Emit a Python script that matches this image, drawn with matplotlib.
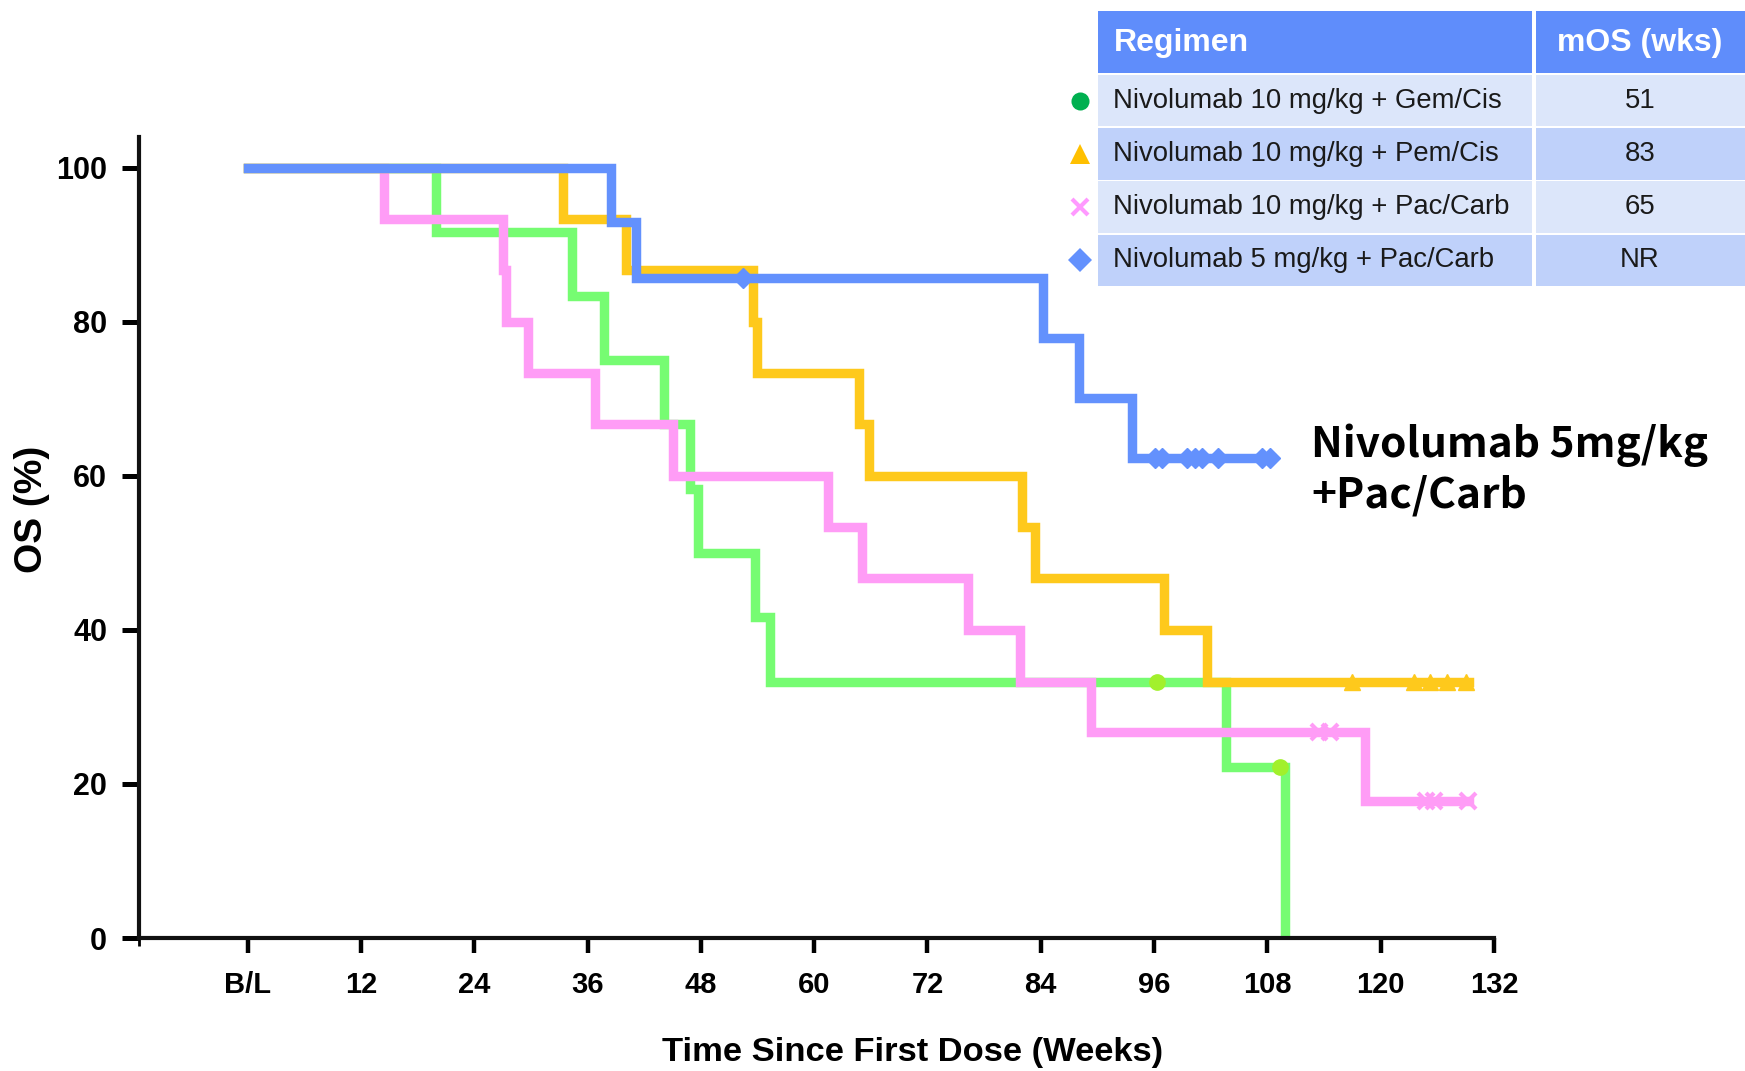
import matplotlib
matplotlib.use('Agg')
import matplotlib.pyplot as plt
from matplotlib.patches import Rectangle
import numpy as np

# event times (weeks) and survival (%) after each event, plus censor times
green_times = [20.0, 34.4, 37.7, 44.1, 46.9, 47.7, 53.7, 55.3, 103.6, 109.9]
green_surv = [91.7, 83.3, 75.0, 66.7, 58.3, 50.0, 41.7, 33.3, 22.2, 0.0]
green_cens = [96.3, 109.3]
green_end = 109.9

yellow_times = [33.4, 40.1, 53.5, 53.9, 64.7, 65.8, 82.0, 83.4, 97.0, 101.6]
yellow_surv = [93.3, 86.7, 80.0, 73.3, 66.7, 60.0, 53.3, 46.7, 40.0, 33.3]
yellow_cens = [117.0, 123.5, 125.2, 127.0, 129.0]
yellow_end = 129.3

pink_times = [14.4, 27.1, 27.4, 29.7, 36.8, 45.0, 61.5, 65.1, 76.3, 81.8, 89.3, 118.3]
pink_surv = [93.3, 86.7, 80.0, 73.3, 66.7, 60.0, 53.3, 46.7, 40.0, 33.3, 26.7, 17.8]
pink_cens = [113.5, 114.6, 124.8, 125.6, 129.2]
pink_end = 129.4

blue_times = [38.5, 41.1, 84.2, 88.1, 93.7]
blue_surv = [92.9, 85.7, 77.9, 70.1, 62.3]
blue_cens = [52.5, 96.1, 96.8, 99.5, 100.3, 101.1, 102.8, 107.4, 108.3]
blue_end = 108.4

x_ticks = [0, 12, 24, 36, 48, 60, 72, 84, 96, 108, 120, 132]
x_labels = ['B/L', '12', '24', '36', '48', '60', '72', '84', '96', '108', '120', '132']
y_ticks = [0, 20, 40, 60, 80, 100]

regimens = ['Nivolumab 10 mg/kg + Gem/Cis', 'Nivolumab 10 mg/kg + Pem/Cis',
            'Nivolumab 10 mg/kg + Pac/Carb', 'Nivolumab 5 mg/kg + Pac/Carb']
mos = ['51', '83', '65', 'NR']


def step_xy(times, surv, end):
    x = [0] + list(times)
    y = [100] + list(surv)
    if end > x[-1]:
        x.append(end)
        y.append(y[-1])
    return x, y


def censor_y(times, surv, cens):
    t = np.array(times)
    s = np.array([100] + list(surv))
    return s[np.searchsorted(t, cens, side='right')]


W, H = 1745, 1071
fig = plt.figure(figsize=(W / 100, H / 100), dpi=100)
ax = fig.add_axes([139 / W, 1 - 938 / H, (1494 - 139) / W, (938 - 137) / H])

series = [
    (green_times, green_surv, green_cens, green_end, '#76fc72', 'o', '#a2f02c', 11, 0),
    (pink_times, pink_surv, pink_cens, pink_end, '#ff9cf6', 'x', '#ff9cf6', 12, 3),
    (yellow_times, yellow_surv, yellow_cens, yellow_end, '#fec91c', '^', '#fec91c', 12, 0),
    (blue_times, blue_surv, blue_cens, blue_end, '#6391fd', 'D', '#6391fd', 10, 0),
]
for times, surv, cens, end, col, mk, mcol, ms, mew in series:
    x, y = step_xy(times, surv, end)
    ax.plot(x, y, drawstyle='steps-post', color=col, lw=6.8, solid_joinstyle='miter')
    cy = censor_y(times, surv, cens)
    if mk == 'x':
        ax.plot(cens, cy, ls='none', marker=mk, ms=ms, mew=mew, color=mcol)
    else:
        ax.plot(cens, cy, ls='none', marker=mk, ms=ms, color=mcol, mec=mcol)

ax.set_xlim(-11.5, 132)
ax.set_ylim(0, 104)
ax.spines['top'].set_visible(False)
ax.spines['right'].set_visible(False)
ax.spines['left'].set_linewidth(3)
ax.spines['bottom'].set_linewidth(3)
ax.spines['left'].set_color('#111111')
ax.spines['bottom'].set_color('#111111')

ax.set_xticks(x_ticks)
ax.set_xticklabels(x_labels)
ax.set_xticks([-11.5], minor=True)
ax.set_yticks(y_ticks)
ax.tick_params(axis='x', which='major', length=11, width=3.2, pad=13, labelsize=21)
ax.tick_params(axis='x', which='minor', length=6, width=2)
ax.tick_params(axis='y', length=12, width=3.6, pad=11, labelsize=22)
for lab in ax.get_xticklabels() + ax.get_yticklabels():
    lab.set_fontfamily('Liberation Sans')
    lab.set_fontweight('bold')

ax.set_xlabel('Time Since First Dose (Weeks)', fontsize=24.8, fontweight='bold', family='Liberation Sans')
ax.xaxis.label.set_va('center')
ax.xaxis.set_label_coords((913 - 139) / 1355, (938 - 1052) / 801)
ax.set_ylabel('OS (%)', fontsize=28, fontweight='bold', family='Liberation Sans')
ax.yaxis.label.set_va('center')
ax.yaxis.set_label_coords((32 - 139) / 1355, (938 - 509) / 801)

# annotation
fig.text(1311 / W, 1 - 445 / H, 'Nivolumab 5mg/kg', fontsize=30.5, fontweight='bold',
         family='Noto Sans CJK KR', va='center', ha='left')
fig.text(1311 / W, 1 - 495 / H, '+Pac/Carb', fontsize=30.5, fontweight='bold',
         family='Noto Sans CJK KR', va='center', ha='left')

# table
tl, tdiv, tr = 1098, 1534, 1745
htop, hbot, rh = 11, 73, 53.25
gap = 2
fig.patches.append(Rectangle((tl / W, 1 - hbot / H), (tdiv - tl - gap) / W, (hbot - htop) / H,
                             transform=fig.transFigure, color='#5f8dfb', lw=0))
fig.patches.append(Rectangle(((tdiv + gap) / W, 1 - hbot / H), (tr - tdiv) / W, (hbot - htop) / H,
                             transform=fig.transFigure, color='#5f8dfb', lw=0))
fig.text(1114 / W, 1 - 43 / H, 'Regimen', color='white', fontsize=23, fontweight='bold',
         family='Liberation Sans', va='center')
fig.text(1640 / W, 1 - 43 / H, 'mOS (wks)', color='white', fontsize=23, fontweight='bold',
         family='Liberation Sans', va='center', ha='center')

row_colors = ['#dce6fa', '#bfd1fa', '#dce6fa', '#bfd1fa']
legend_marks = [('o', '#00b050', 13, 0), ('^', '#ffc000', 14, 0), ('x', '#ff99ff', 12, 3), ('D', '#6391fd', 12, 0)]
for i, (reg, val) in enumerate(zip(regimens, mos)):
    top = hbot + gap + i * rh
    h = rh - gap
    fig.patches.append(Rectangle((tl / W, 1 - (top + h) / H), (tdiv - tl - gap) / W, h / H,
                                 transform=fig.transFigure, color=row_colors[i], lw=0))
    fig.patches.append(Rectangle(((tdiv + gap) / W, 1 - (top + h) / H), (tr - tdiv) / W, h / H,
                                 transform=fig.transFigure, color=row_colors[i], lw=0))
    cy = 1 - (top + h / 2) / H
    fig.text(1113 / W, cy, reg, fontsize=19.8, family='Liberation Sans', color='#1a1a1a', va='center')
    fig.text(1640 / W, cy, val, fontsize=19.8, family='Liberation Sans', color='#1a1a1a',
             va='center', ha='center')
    mk, col, ms, mew = legend_marks[i]
    fig.lines.append(plt.Line2D([1080 / W], [cy], transform=fig.transFigure, marker=mk, ms=ms,
                                mew=mew, color=col, ls='none'))

fig.savefig('out.png', dpi=100)
